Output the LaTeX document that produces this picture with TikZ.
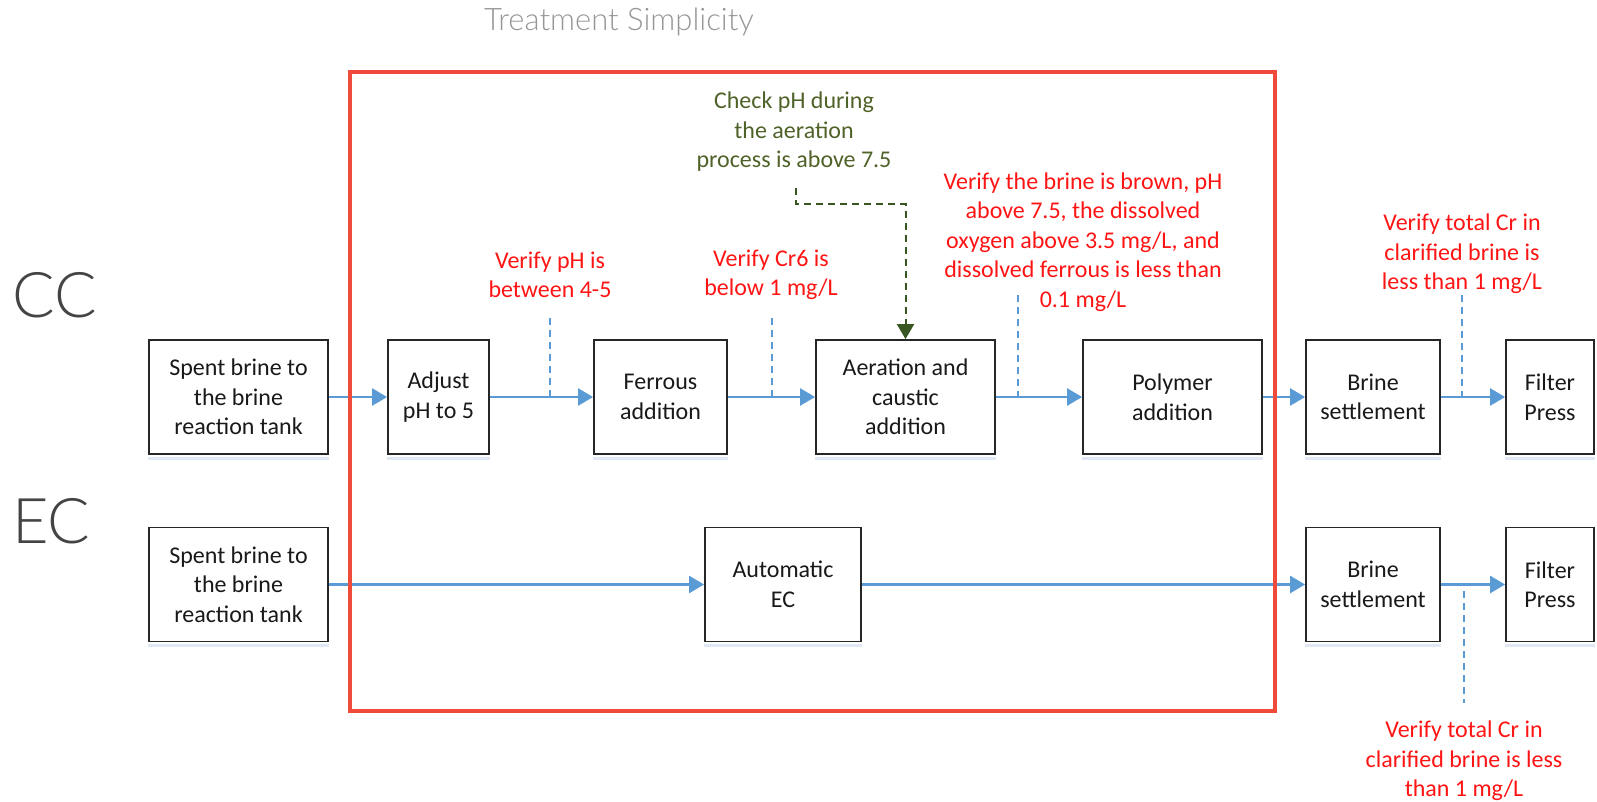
\documentclass[tikz,border=0pt]{standalone}
\usepackage{fontspec}
\setmainfont{Carlito}
\newfontfamily\lightfont{Lato Light}
\usetikzlibrary{arrows.meta}

\definecolor{flowblue}{RGB}{91,155,213}
\definecolor{framered}{RGB}{240,74,58}
\definecolor{notered}{RGB}{255,20,20}
\definecolor{notegreen}{RGB}{79,98,40}
\definecolor{guidegreen}{RGB}{56,87,35}
\definecolor{boxshadow}{RGB}{224,232,243}
\definecolor{titlegray}{RGB}{150,150,150}
\definecolor{sidegray}{RGB}{68,68,68}

\tikzset{
  procbox/.style={draw=black!85, line width=1.8pt, fill=white, minimum height=114pt,
    align=center, inner sep=2pt, font=\fontsize{24}{29.5}\selectfont, text=black!90},
  flow/.style={draw=flowblue, line width=2.5pt, -{Triangle[length=15pt,width=17pt]}},
  probe/.style={draw=flowblue, line width=1.5pt, dash pattern=on 7pt off 5pt},
  greenguide/.style={draw=guidegreen, line width=2pt, dash pattern=on 7pt off 5pt,
    -{Triangle[length=15pt,width=17pt]}},
  redcheck/.style={align=center, text=notered, font=\fontsize{24}{29.5}\selectfont, inner sep=0pt},
  greencheck/.style={align=center, text=notegreen, font=\fontsize{24}{29.5}\selectfont, inner sep=0pt},
  rowlabel/.style={anchor=west, text=sidegray, font=\lightfont\fontsize{63}{63}\selectfont, inner sep=0pt},
  frame/.style={draw=framered, line width=4pt},
  shadowline/.style={draw=boxshadow, line width=3pt}
}

\begin{document}
\begin{tikzpicture}[x=1pt, y=-1pt]
\useasboundingbox (0,0) rectangle (1597,801);

% title and row labels
\node[text=titlegray, font=\lightfont\fontsize{31}{31}\selectfont, inner sep=0pt] (title) at (619,22) {Treatment Simplicity};
\node[rowlabel] (cc) at (12,295) {CC};
\node[rowlabel] (ec) at (12,521) {EC};

% CC row
\node[procbox, minimum width=179pt] (s1)  at (238.5,397) {Spent brine to\\the brine\\reaction tank};
\node[procbox, minimum width=101pt] (adj) at (438.5,397) {Adjust\\pH to 5};
\node[procbox, minimum width=133pt] (fer) at (660.5,397) {Ferrous\\addition};
\node[procbox, minimum width=179pt] (aer) at (905.5,397) {Aeration and\\caustic\\addition};
\node[procbox, minimum width=179pt] (pol) at (1172.5,397) {Polymer\\addition};
\node[procbox, minimum width=134pt] (bs1) at (1373,397) {Brine\\settlement};
\node[procbox, minimum width=88pt]  (fp1) at (1550,397) {Filter\\Press};

% EC row
\node[procbox, minimum width=179pt] (s2)  at (238.5,584.5) {Spent brine to\\the brine\\reaction tank};
\node[procbox, minimum width=156pt] (aec) at (783,584.5) {Automatic\\EC};
\node[procbox, minimum width=134pt] (bs2) at (1373,584.5) {Brine\\settlement};
\node[procbox, minimum width=88pt]  (fp2) at (1550,584.5) {Filter\\Press};

% soft shadow under each box
\foreach \b in {s1,adj,fer,aer,pol,bs1,fp1,s2,aec,bs2,fp2}{
  \draw[shadowline] ([yshift=-3.5pt]\b.south west) -- ([yshift=-3.5pt]\b.south east);
}

% check notes
\node[redcheck] (nph)  at (550,275) {Verify pH is\\between 4-5};
\node[redcheck] (ncr6) at (771,275) {Verify Cr6 is\\below 1 mg/L};
\node[greencheck] (nair) at (794,132) {Check pH during\\the aeration\\process is above 7.5};
\node[redcheck] (nbrn) at (1083,242) {Verify the brine is brown, pH\\above 7.5, the dissolved\\oxygen above 3.5 mg/L, and\\dissolved ferrous is less than\\0.1 mg/L};
\node[redcheck] (ncr1) at (1462,254) {Verify total Cr in\\clarified brine is\\less than 1 mg/L};
\node[redcheck] (ncr2) at (1464,761) {Verify total Cr in\\clarified brine is less\\than 1 mg/L};

% flow arrows
\draw[flow] (s1) -- (adj);
\draw[flow] (adj) -- (fer);
\draw[flow] (fer) -- (aer);
\draw[flow] (aer) -- (pol);
\draw[flow] (pol) -- (bs1);
\draw[flow] (bs1) -- (fp1);
\draw[flow] (s2) -- (aec);
\draw[flow] (aec) -- (bs2);
\draw[flow] (bs2) -- (fp2);

% sampling points
\coordinate (p1) at (550,318);
\coordinate (p2) at (772,318);
\coordinate (p3) at (1018,295);
\coordinate (p4) at (1462,295);
\coordinate (p5) at (1464,591);
\coordinate (p5end) at (1464,703);
\draw[probe] (p1) -- (p1 |- s1.east);
\draw[probe] (p2) -- (p2 |- s1.east);
\draw[probe] (p3) -- (p3 |- s1.east);
\draw[probe] (p4) -- (p4 |- s1.east);
\draw[probe] (p5) -- (p5end);

% aeration pH guide
\coordinate (g0) at (796,188);
\coordinate (g1) at (796,204);
\draw[greenguide] (g0) -- (g1) -| (aer.north);

% treatment frame
\draw[frame] (350,72) rectangle (1275,711);
\end{tikzpicture}
\end{document}
